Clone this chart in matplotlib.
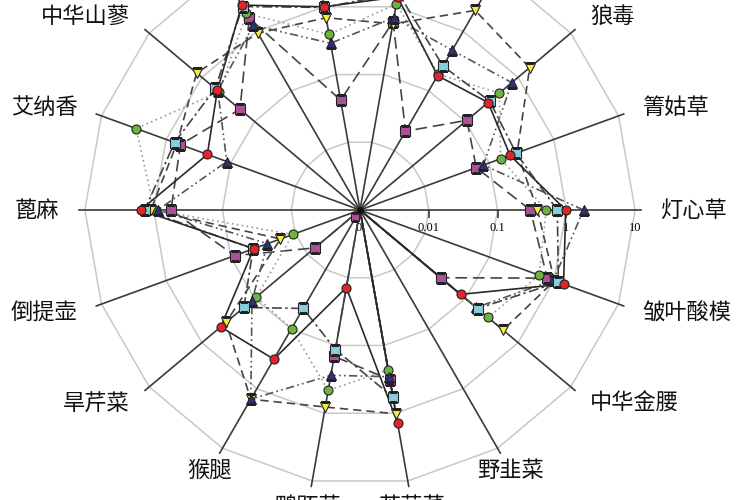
import numpy as np
import matplotlib
matplotlib.use("Agg")
import matplotlib.pyplot as plt

plt.rcParams['font.family'] = ['Noto Sans CJK SC', 'DejaVu Sans']

# categories, counter-clockwise starting at 0 deg (east)
plants = ['灯心草', '箐姑草', '狼毒', '车前草', '蒲公英', '荨麻', '酸模',
          '中华山蓼', '艾纳香', '蓖麻', '倒提壶', '旱芹菜', '猴腿',
          '鸭跖草', '苦苣菜', '野韭菜', '中华金腰', '皱叶酸模']

# values (0 = at centre)
red = [0.98, 0.21, 0.27, 0.18, 1.4, 1.0, 2.75, 0.51, 0.23, 1.55, 0.044, 0.44,
       0.32, 0.014, 1.38, 0, 0.081, 1.41]
green = [0.51, 0.15, 0.44, 0.19, 1.1, 0.39, 2.0, 0.47, 2.9, 0.98, 0.011, 0.093,
         0.098, 0.46, 0.23, 0, 0.27, 0.59]
cyan = [0.74, 0.26, 0.29, 0.26, 1.6, 0.98, 2.6, 0.56, 0.74, 1.35, 0.045, 0.16,
        0.045, 0.115, 0.58, 0, 0.17, 1.17]
magenta = [0.30, 0.063, 0.107, 0.021, 0.60, 0.042, 1.66, 0.19, 0.60, 0.56, 0.087,
           0.0072, 0, 0.145, 0.32, 0, 0.034, 0.79]
yellow = [0.38, 0.27, 1.66, 2.24, 0.56, 0.69, 0.93, 1.26, 0.68, 1.1, 0.017, 0.35,
          1.5, 0.81, 1.02, 0, 0.52, 1.02]
navy = [1.78, 0.081, 0.76, 0.48, 0.69, 0.29, 1.26, 0.5, 0.115, 0.87, 0.027, 0.112,
        1.5, 0.275, 0.29, 0, 0.16, 0.98]

tick_vals = [0.01, 0.1, 1, 10]
tick_text = ['0.01', '0.1', '1', '10']


def to_r(v):
    v = np.asarray(v, dtype=float)
    return np.where(v > 0, np.log10(np.maximum(v, 1e-3)) + 3, 0.0)


n = len(plants)
theta = np.deg2rad(np.arange(n) * 360.0 / n)
theta_c = np.append(theta, theta[0])

fig = plt.figure(figsize=(7.5, 5), dpi=100)
R = 282
ax = fig.add_axes([(360 - R) / 750, (290 - R) / 500, 2 * R / 750, 2 * R / 500],
                  projection='polar')
ax.set_ylim(0, 4.1)
ax.set_axis_off()

# polygon grid
for g in tick_vals:
    rr = to_r([g])[0]
    ax.plot(theta_c, [rr] * (n + 1), color='#c8c8c8', lw=1.1, zorder=1)

# spokes
for t in theta:
    ax.plot([t, t], [0, 4.08], color='#3a3a3a', lw=1.2, zorder=2)

# radial tick marks and labels along the 0 deg spoke
for g, s in zip(tick_vals, tick_text):
    rr = to_r([g])[0]
    if g < 10:
        ax.plot([0], [rr], marker=3, ms=6, color='#3a3a3a', mew=1.2, zorder=2)
    ax.annotate(s, xy=(0, rr), xytext=(0, -13), textcoords='offset points',
                ha='center', va='center', fontsize=9, family='Liberation Serif')
ax.annotate('0', xy=(0, 0), xytext=(-1, -13), textcoords='offset points',
            ha='center', va='center', fontsize=9, family='Liberation Serif')

series = [
    (magenta, '#b0509a', 's', (0, (7, 3.5)), '#444444'),
    (green, '#6db33f', 'o', (0, (1, 2)), '#9a9a9a'),
    (yellow, '#f3ee3c', 'v', (0, (5, 3)), '#444444'),
    (navy, '#2f3180', '^', (0, (5, 2, 1, 2, 1, 2)), '#555555'),
    (cyan, '#84d0dc', 's', (0, (6, 2, 1.5, 2)), '#444444'),
    (red, '#e5232b', 'o', '-', '#2a2a2a'),
]

for vals, col, mk, ls, lc in series:
    r = to_r(vals)
    r_c = np.append(r, r[0])
    ax.plot(theta_c, r_c, color=lc, ls=ls, lw=1.2, zorder=3)
    keep = r > 0
    ax.plot(theta[keep], r[keep], ls='none', marker=mk, ms=6.5, mfc=col,
            mec='#222222', mew=0.8, zorder=4)

ax.plot([0], [0], marker='o', ms=4, color='#111111', zorder=5)
ax.plot([np.deg2rad(235)], [0.12], marker='s', ms=6, mfc='#b0509a',
        mec='#222222', mew=0.8, zorder=4)

# category labels
for t, name in zip(theta, plants):
    c = np.cos(t)
    if c > 0.55:
        ha = 'left'
    elif c < -0.55:
        ha = 'right'
    else:
        ha = 'center'
    ax.text(t, 4.37, name, ha=ha, va='center', fontsize=16, color='#111111')

fig.savefig('out.png', dpi=100)
